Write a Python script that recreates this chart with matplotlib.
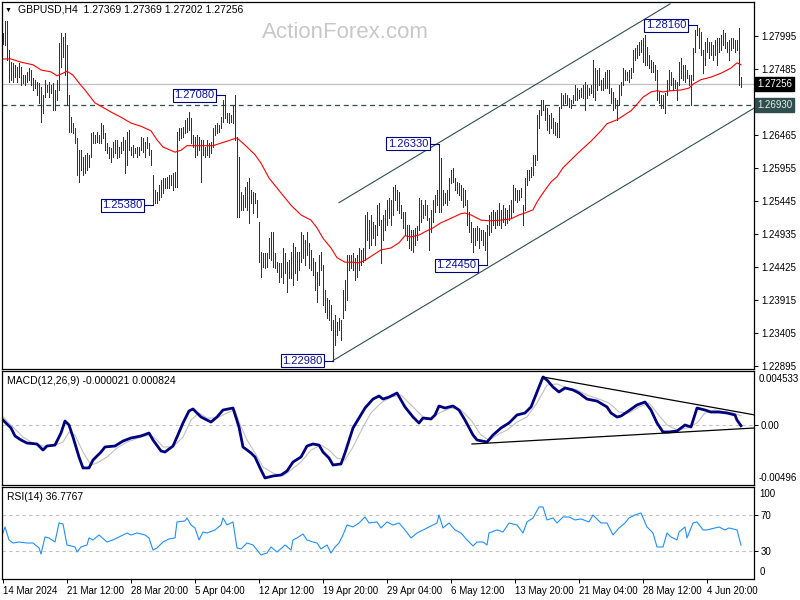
import matplotlib.pyplot as plt
import matplotlib.transforms as mtransforms

# ---- price bars (H4 GBPUSD), one value per bar ----
highs = [
    1.2804, 1.2823, 1.2823, 1.2778, 1.2759, 1.2758, 1.2755, 1.2752, 1.2758, 1.2752,
    1.2739, 1.2739, 1.2744, 1.2750, 1.2747, 1.2735, 1.2732, 1.2728, 1.2727, 1.2721,
    1.2708, 1.2732, 1.2724, 1.2728, 1.2724, 1.2727, 1.2716, 1.2732, 1.2789, 1.2804,
    1.2798, 1.2804, 1.2786, 1.2708, 1.2674, 1.2665, 1.2657, 1.2642, 1.2623, 1.2623,
    1.2613, 1.2616, 1.2619, 1.2616, 1.2650, 1.2651, 1.2647, 1.2651, 1.2647, 1.2665,
    1.2662, 1.2650, 1.2634, 1.2628, 1.2626, 1.2636, 1.2639, 1.2639, 1.2628, 1.2636,
    1.2643, 1.2639, 1.2651, 1.2654, 1.2628, 1.2631, 1.2626, 1.2628, 1.2628, 1.2643,
    1.2642, 1.2636, 1.2643, 1.2634, 1.2623, 1.2585, 1.2562, 1.2559, 1.2569, 1.2577,
    1.2580, 1.2580, 1.2582, 1.2585, 1.2585, 1.2588, 1.2589, 1.2651, 1.2657, 1.2657,
    1.2659, 1.2670, 1.2673, 1.2682, 1.2673, 1.2647, 1.2643, 1.2647, 1.2643, 1.2639,
    1.2639, 1.2628, 1.2639, 1.2634, 1.2636, 1.2657, 1.2662, 1.2665, 1.2662, 1.2674,
    1.2701, 1.2708, 1.2680, 1.2680, 1.2677, 1.2693, 1.2708, 1.2643, 1.2613, 1.2559,
    1.2554, 1.2566, 1.2574, 1.2580, 1.2562, 1.2559, 1.2557, 1.2546, 1.2512, 1.2466,
    1.2464, 1.2464, 1.2464, 1.2487, 1.2497, 1.2497, 1.2464, 1.2450, 1.2449, 1.2449,
    1.2472, 1.2464, 1.2450, 1.2453, 1.2466, 1.2480, 1.2474, 1.2466, 1.2466, 1.2497,
    1.2492, 1.2484, 1.2497, 1.2480, 1.2469, 1.2457, 1.2450, 1.2435, 1.2461, 1.2466,
    1.2446, 1.2407, 1.2395, 1.2392, 1.2384, 1.2361, 1.2368, 1.2358, 1.2364, 1.2361,
    1.2407, 1.2422, 1.2461, 1.2461, 1.2461, 1.2464, 1.2457, 1.2461, 1.2472, 1.2469,
    1.2472, 1.2523, 1.2528, 1.2515, 1.2523, 1.2512, 1.2508, 1.2538, 1.2542, 1.2515,
    1.2523, 1.2531, 1.2546, 1.2549, 1.2546, 1.2566, 1.2569, 1.2562, 1.2559, 1.2538,
    1.2528, 1.2528, 1.2508, 1.2508, 1.2500, 1.2500, 1.2503, 1.2506, 1.2549, 1.2546,
    1.2538, 1.2546, 1.2538, 1.2518, 1.2531, 1.2546, 1.2554, 1.2562, 1.2633, 1.2611,
    1.2562, 1.2557, 1.2562, 1.2580, 1.2593, 1.2596, 1.2580, 1.2574, 1.2572, 1.2569,
    1.2565, 1.2562, 1.2546, 1.2528, 1.2512, 1.2503, 1.2503, 1.2506, 1.2503, 1.2500,
    1.2500, 1.2497, 1.2508, 1.2523, 1.2528, 1.2531, 1.2528, 1.2531, 1.2542, 1.2531,
    1.2538, 1.2534, 1.2531, 1.2538, 1.2546, 1.2569, 1.2565, 1.2562, 1.2562, 1.2565,
    1.2538, 1.2580, 1.2593, 1.2593, 1.2597, 1.2616, 1.2616, 1.2677, 1.2685, 1.2701,
    1.2701, 1.2693, 1.2688, 1.2677, 1.2680, 1.2673, 1.2667, 1.2665, 1.2690, 1.2711,
    1.2708, 1.2711, 1.2708, 1.2704, 1.2701, 1.2708, 1.2724, 1.2719, 1.2716, 1.2719,
    1.2724, 1.2728, 1.2724, 1.2719, 1.2724, 1.2762, 1.2750, 1.2747, 1.2750, 1.2732,
    1.2735, 1.2744, 1.2747, 1.2747, 1.2719, 1.2713, 1.2704, 1.2701, 1.2724, 1.2728,
    1.2750, 1.2747, 1.2744, 1.2747, 1.2750, 1.2778, 1.2781, 1.2786, 1.2790, 1.2793,
    1.2796, 1.2801, 1.2783, 1.2770, 1.2762, 1.2759, 1.2755, 1.2747, 1.2713, 1.2708,
    1.2708, 1.2711, 1.2732, 1.2747, 1.2744, 1.2735, 1.2732, 1.2728, 1.2759, 1.2766,
    1.2755, 1.2755, 1.2747, 1.2739, 1.2739, 1.2781, 1.2809, 1.2816, 1.2812, 1.2806,
    1.2778, 1.2790, 1.2796, 1.2790, 1.2790, 1.2786, 1.2793, 1.2796, 1.2796, 1.2801,
    1.2809, 1.2804, 1.2790, 1.2793, 1.2796, 1.2796, 1.2793, 1.2793, 1.2812, 1.27369,
]
lows = [
    1.2787, 1.2786, 1.2762, 1.2728, 1.2732, 1.2728, 1.2736, 1.2728, 1.2736, 1.2724,
    1.2727, 1.2724, 1.2728, 1.2732, 1.2724, 1.2716, 1.2719, 1.2708, 1.2696, 1.2667,
    1.2680, 1.2705, 1.2713, 1.2705, 1.2711, 1.2685, 1.2685, 1.2701, 1.2716, 1.2752,
    1.2767, 1.2739, 1.2693, 1.2651, 1.2651, 1.2650, 1.2634, 1.2585, 1.2574, 1.2593,
    1.2585, 1.2588, 1.2593, 1.2597, 1.2613, 1.2634, 1.2634, 1.2636, 1.2634, 1.2634,
    1.2642, 1.2623, 1.2619, 1.2611, 1.2605, 1.2613, 1.2619, 1.2611, 1.2613, 1.2619,
    1.2623, 1.2588, 1.2600, 1.2623, 1.2616, 1.2613, 1.2619, 1.2613, 1.2616, 1.2623,
    1.2620, 1.2613, 1.2626, 1.2616, 1.2600, 1.2538, 1.2542, 1.2542, 1.2546, 1.2551,
    1.2557, 1.2565, 1.2565, 1.2565, 1.2569, 1.2562, 1.2566, 1.2566, 1.2639, 1.2642,
    1.2643, 1.2650, 1.2651, 1.2654, 1.2634, 1.2628, 1.2613, 1.2616, 1.2623, 1.2574,
    1.2616, 1.2613, 1.2616, 1.2613, 1.2619, 1.2628, 1.2647, 1.2650, 1.2651, 1.2657,
    1.2667, 1.2673, 1.2667, 1.2665, 1.2667, 1.2665, 1.2639, 1.2520, 1.2520, 1.2531,
    1.2531, 1.2535, 1.2531, 1.2511, 1.2542, 1.2526, 1.2542, 1.2520, 1.2450, 1.2427,
    1.2443, 1.2441, 1.2443, 1.2457, 1.2453, 1.2443, 1.2441, 1.2435, 1.2419, 1.2427,
    1.2418, 1.2433, 1.2404, 1.2426, 1.2426, 1.2415, 1.2433, 1.2422, 1.2438, 1.2450,
    1.2457, 1.2446, 1.2461, 1.2441, 1.2438, 1.2430, 1.2407, 1.2389, 1.2415, 1.2438,
    1.2384, 1.2373, 1.2364, 1.2361, 1.2345, 1.2298, 1.2322, 1.2337, 1.2345, 1.2330,
    1.2364, 1.2376, 1.2392, 1.2438, 1.2441, 1.2438, 1.2422, 1.2427, 1.2438, 1.2446,
    1.2450, 1.2453, 1.2484, 1.2472, 1.2477, 1.2487, 1.2477, 1.2492, 1.2508, 1.2449,
    1.2484, 1.2500, 1.2508, 1.2518, 1.2508, 1.2523, 1.2546, 1.2531, 1.2526, 1.2518,
    1.2503, 1.2492, 1.2484, 1.2472, 1.2469, 1.2466, 1.2477, 1.2484, 1.2500, 1.2512,
    1.2518, 1.2523, 1.2515, 1.2469, 1.2497, 1.2512, 1.2528, 1.2538, 1.2528, 1.2528,
    1.2538, 1.2542, 1.2538, 1.2546, 1.2572, 1.2574, 1.2562, 1.2557, 1.2554, 1.2546,
    1.2535, 1.2538, 1.2508, 1.2497, 1.2481, 1.2466, 1.2477, 1.2484, 1.2472, 1.2484,
    1.2477, 1.2469, 1.2445, 1.2492, 1.2497, 1.2508, 1.2503, 1.2508, 1.2508, 1.2503,
    1.2512, 1.2508, 1.2511, 1.2515, 1.2518, 1.2528, 1.2546, 1.2543, 1.2546, 1.2551,
    1.2508, 1.2531, 1.2569, 1.2577, 1.2582, 1.2585, 1.2600, 1.2608, 1.2657, 1.2677,
    1.2685, 1.2670, 1.2654, 1.2650, 1.2657, 1.2650, 1.2647, 1.2643, 1.2643, 1.2688,
    1.2693, 1.2696, 1.2693, 1.2690, 1.2688, 1.2696, 1.2701, 1.2701, 1.2704, 1.2705,
    1.2704, 1.2685, 1.2704, 1.2708, 1.2711, 1.2705, 1.2701, 1.2716, 1.2724, 1.2716,
    1.2716, 1.2719, 1.2719, 1.2711, 1.2696, 1.2685, 1.2688, 1.2670, 1.2693, 1.2708,
    1.2724, 1.2732, 1.2732, 1.2728, 1.2735, 1.2744, 1.2762, 1.2766, 1.2770, 1.2775,
    1.2759, 1.2755, 1.2755, 1.2750, 1.2744, 1.2744, 1.2732, 1.2701, 1.2696, 1.2688,
    1.2688, 1.2680, 1.2708, 1.2716, 1.2724, 1.2716, 1.2719, 1.2701, 1.2724, 1.2735,
    1.2732, 1.2728, 1.2735, 1.2724, 1.2693, 1.2732, 1.2775, 1.2801, 1.2781, 1.2770,
    1.2742, 1.2755, 1.2775, 1.2766, 1.2770, 1.2762, 1.2770, 1.2755, 1.2775, 1.2778,
    1.2786, 1.2781, 1.2775, 1.2762, 1.2778, 1.2781, 1.2775, 1.2778, 1.2724, 1.27202,
]
last_open, last_close = 1.27369, 1.27256

# moving average (red)
ma_idx = [0, 4, 9, 15, 19, 24, 27, 30, 32, 35, 38, 41, 46, 49, 54, 59, 64, 69, 74, 77,
          80, 86, 89, 92, 99, 105, 109, 114, 117, 121, 126, 129, 133, 139, 144, 149, 154, 157, 160, 164,
          167, 171, 175, 178, 181, 185, 189, 194, 198, 201, 204, 208, 211, 215, 219, 222, 229, 231, 234, 239,
          243, 249, 254, 258, 261, 265, 267, 270, 274, 277, 280, 284, 289, 294, 299, 302, 307, 310, 314, 317,
          320, 324, 327, 330, 334, 339, 343, 345, 349, 354, 359, 364, 367, 369]
ma_val = [1.2764, 1.2764, 1.2759, 1.2755, 1.2747, 1.2744, 1.2738, 1.2742, 1.2745, 1.2739,
          1.2727, 1.2716, 1.2696, 1.2691, 1.2682, 1.2674, 1.2665, 1.2660, 1.2653, 1.2639,
          1.2628, 1.2620, 1.2623, 1.2630, 1.2630, 1.2630, 1.2634, 1.2639, 1.2642, 1.2631,
          1.2616, 1.2603, 1.2580, 1.2557, 1.2538, 1.2523, 1.2515, 1.2503, 1.2487, 1.2472,
          1.2457, 1.2450, 1.2450, 1.2449, 1.2453, 1.2461, 1.2469, 1.2472, 1.2480, 1.2491,
          1.2489, 1.2492, 1.2497, 1.2503, 1.2511, 1.2515, 1.2525, 1.2526, 1.2523, 1.2515,
          1.2514, 1.2515, 1.2517, 1.2523, 1.2526, 1.2531, 1.2543, 1.2557, 1.2574, 1.2582,
          1.2596, 1.2608, 1.2623, 1.2637, 1.2653, 1.2664, 1.2670, 1.2676, 1.2684, 1.2694,
          1.2705, 1.2713, 1.2715, 1.2713, 1.2715, 1.2716, 1.2719, 1.2725, 1.2732, 1.2736,
          1.2742, 1.2750, 1.2758, 1.2755]

# MACD(12,26,9): main and signal, in units of 0.001
macd_idx = [0, 4, 6, 9, 12, 17, 20, 22, 26, 29, 31, 33, 35, 38, 40, 43, 45, 49, 51, 56,
            60, 64, 69, 73, 75, 79, 81, 85, 87, 90, 93, 95, 99, 104, 107, 110, 115, 118, 120, 124,
            126, 129, 131, 135, 139, 142, 145, 149, 152, 155, 158, 160, 163, 165, 169, 171, 175, 178, 181, 185,
            188, 190, 193, 197, 201, 205, 208, 210, 214, 216, 218, 221, 225, 228, 231, 235, 237, 242, 245, 249,
            253, 257, 261, 264, 266, 269, 270, 272, 275, 278, 281, 285, 288, 292, 297, 302, 304, 307, 309, 312,
            317, 321, 324, 327, 330, 333, 337, 341, 344, 347, 351, 354, 358, 362, 366, 367, 369]
macd_val = [0.46, -0.21, -0.89, -1.23, -1.49, -1.57, -2.08, -1.74, -1.66, -0.64,
            0.38, 0.04, -0.98, -2.67, -3.60, -3.60, -2.93, -2.25, -1.82, -1.74,
            -1.32, -1.06, -0.89, -0.64, -1.23, -2.16, -2.25, -1.74, -0.98, 0.21,
            1.23, 1.40, 0.72, 0.29, 0.72, 1.31, 1.48, -0.13, -1.82, -2.33,
            -2.67, -3.77, -4.45, -4.28, -4.20, -3.86, -3.10, -2.67, -1.74, -1.57,
            -1.66, -2.25, -2.76, -3.35, -3.26, -2.33, -0.21, 0.63, 1.48, 2.24,
            2.50, 2.24, 2.41, 2.75, 1.57, 0.72, 0.21, 0.63, 0.55, 0.89,
            1.65, 1.48, 1.65, 1.31, 0.46, -0.81, -1.23, -1.40, -0.81, -0.21,
            0.21, 0.89, 1.06, 1.57, 2.41, 3.69, 4.11, 3.85, 3.26, 2.84,
            3.18, 3.01, 2.75, 2.24, 2.07, 1.57, 1.06, 0.72, 0.80, 1.14,
            1.74, 1.99, 1.31, 0.21, -0.55, -0.55, -0.47, 0.04, -0.13, 1.48,
            1.31, 1.14, 1.14, 1.06, 0.89, 0.46, -0.02]
sig_idx = [0, 5, 10, 15, 20, 25, 30, 33, 36, 40, 44, 47, 52, 57, 62, 69, 74, 77, 80, 85,
           90, 94, 98, 102, 107, 112, 116, 118, 122, 126, 130, 135, 140, 144, 149, 154, 159, 163, 167, 171,
           175, 180, 184, 189, 194, 199, 205, 210, 214, 219, 224, 229, 234, 239, 243, 247, 252, 257, 262, 267,
           272, 277, 282, 287, 292, 298, 303, 308, 313, 318, 323, 327, 332, 337, 342, 347, 351, 356, 361, 365,
           369]
sig_val = [0.72, -0.13, -0.98, -1.49, -1.74, -1.74, -1.40, -0.55, -0.81, -2.25,
           -3.35, -3.18, -2.67, -1.91, -1.40, -0.98, -0.81, -1.23, -1.82, -1.82,
           -0.98, 0.46, 1.06, 0.63, 0.63, 1.06, 1.31, 0.29, -1.23, -2.33,
           -3.52, -4.03, -4.28, -3.77, -3.10, -2.08, -1.66, -2.08, -2.76, -2.93,
           -1.82, -0.13, 1.06, 1.91, 2.41, 2.58, 1.57, 0.72, 0.63, 1.14,
           1.48, 1.31, 0.46, -0.81, -1.23, -0.81, -0.38, 0.29, 0.72, 1.91,
           3.43, 3.52, 3.18, 3.01, 2.58, 2.24, 1.91, 1.14, 1.06, 1.57,
           1.91, 1.06, 0.04, -0.38, -0.21, 0.21, 1.06, 1.31, 1.14, 1.06,
           0.82]
macd_last, signal_last = -0.000021, 0.000824
macd_top, macd_bottom = 0.004533, -0.00496

# RSI(14)
rsi_idx = [0, 1, 3, 5, 8, 12, 15, 18, 19, 21, 23, 26, 28, 30, 32, 36, 37, 39, 42, 43,
           45, 48, 52, 55, 58, 62, 64, 67, 71, 73, 75, 77, 80, 83, 86, 87, 91, 92, 94, 96,
           98, 100, 102, 106, 109, 110, 112, 115, 117, 119, 122, 125, 127, 129, 132, 134, 137, 140, 141, 144,
           145, 147, 150, 152, 155, 157, 159, 162, 164, 166, 168, 170, 172, 175, 178, 181, 183, 187, 189, 192,
           195, 198, 201, 204, 207, 210, 213, 217, 218, 220, 223, 226, 229, 232, 235, 237, 240, 242, 243, 247,
           250, 253, 257, 260, 262, 265, 268, 270, 272, 275, 277, 280, 283, 286, 289, 293, 295, 299, 302, 305,
           308, 311, 313, 316, 319, 322, 325, 327, 330, 332, 334, 337, 338, 341, 342, 345, 347, 350, 352, 356,
           358, 361, 363, 367, 369]
rsi_val = [50.3, 57.0, 42.6, 39.2, 40.3, 39.2, 39.2, 33.7, 27.0, 45.9,
           44.8, 40.3, 61.4, 60.3, 37.0, 34.8, 29.2, 34.8, 37.0, 44.8,
           42.6, 48.1, 40.3, 42.6, 45.9, 50.3, 48.1, 50.3, 48.1, 44.8,
           31.4, 33.7, 40.3, 43.7, 44.8, 62.6, 63.7, 67.0, 59.2, 55.9,
           42.6, 51.4, 50.3, 53.7, 59.2, 67.0, 59.2, 62.6, 33.7, 32.6,
           39.2, 37.0, 31.4, 25.9, 28.1, 34.8, 29.2, 34.8, 37.0, 31.4,
           42.6, 44.8, 49.2, 42.6, 40.3, 39.2, 32.6, 37.0, 28.1, 34.8,
           39.2, 48.1, 59.2, 57.0, 61.4, 68.1, 61.4, 62.6, 55.9, 62.6,
           59.2, 61.4, 53.7, 44.8, 50.3, 53.7, 57.0, 61.4, 70.3, 55.9,
           61.4, 53.7, 50.3, 42.6, 35.9, 40.3, 40.3, 37.0, 50.3, 53.7,
           51.4, 61.4, 59.2, 50.3, 62.6, 67.0, 79.2, 79.2, 64.8, 67.0,
           61.4, 68.1, 68.1, 64.8, 65.9, 62.6, 70.3, 61.4, 61.4, 48.1,
           55.9, 61.4, 67.0, 70.3, 72.6, 57.0, 50.3, 34.8, 34.8, 50.3,
           45.9, 42.6, 51.4, 57.0, 44.8, 61.4, 62.6, 53.7, 53.7, 55.9,
           57.0, 53.7, 55.9, 53.7, 36.8]
rsi_last = 36.7767

# labelled swing highs / lows
swing_idx = [111, 75, 218, 242, 165, 347]
swing_val = [1.2708, 1.2538, 1.2633, 1.2445, 1.2298, 1.2816]

# drawn trend lines (bar index, value)
chan_up = ([168, 333.5], [1.2542, 1.2849])
chan_lo = ([165, 375.5], [1.2298, 1.2688])
macd_up = ([270, 376], [4.11, 0.89])
macd_lo = ([234.5, 376], [-1.57, -0.21])
level_line = 1.2693

price_ticks = [1.27995, 1.27485, 1.26975, 1.26465, 1.25955, 1.25445,
               1.24935, 1.24425, 1.23915, 1.23405, 1.22895]
price_labels = ['1.27995', '1.27485', '', '1.26465', '1.25955', '1.25445',
                '1.24935', '1.24425', '1.23915', '1.23405', '1.22895']
date_idx = [0, 32, 64, 96, 128, 160, 192, 224, 256, 288, 320, 352]
date_labels = ['14 Mar 2024', '21 Mar 12:00', '28 Mar 20:00', '5 Apr 04:00',
               '12 Apr 12:00', '19 Apr 20:00', '29 Apr 04:00', '6 May 12:00',
               '13 May 20:00', '21 May 04:00', '28 May 12:00', '4 Jun 20:00']

plt.rcParams['font.family'] = ['Liberation Sans', 'DejaVu Sans']
W, H = 800, 600
FS = 7
fig = plt.figure(figsize=(8, 6), dpi=100)


def panel(top, bottom, left=2, right=754):
    a = fig.add_axes([left / W, 1 - bottom / H, (right - left) / W, (bottom - top) / H])
    a.set_xlim(-0.5, 375.5)
    for s in a.spines.values():
        s.set_linewidth(0.9)
    a.yaxis.tick_right()
    a.tick_params(axis='y', length=3, width=0.7, pad=2, labelsize=FS)
    return a


ax = panel(2, 369)
ax_macd = panel(371, 485)
ax_rsi = panel(487, 579)

# ---- main price panel ----
bars = list(range(len(highs)))
ax.axhline(last_close, color='#c0c0c0', lw=0.9)
ax.axhline(level_line, color='#2f4f4f', lw=0.9, ls=(0, (4, 3)))
ax.vlines(bars, lows, highs, color='#173a52', lw=0.72, antialiased=False)
ax.plot(ma_idx, ma_val, color='red', lw=0.8)
ax.plot(*chan_up, color='#2f4f4f', lw=0.8)
ax.plot(*chan_lo, color='#2f4f4f', lw=0.8)
ax.set_ylim(1.2285, 1.2852)
ax.set_xticks([])
ax.set_yticks(price_ticks)
ax.set_yticklabels(price_labels)

for i, v in zip(swing_idx, swing_val):
    ax.plot([i - 5, i], [v, v], color='#000080', lw=0.8)
    ax.text(i - 5.4, v, f'{v:.5f}', ha='right', va='center', fontsize=8, color='#1010a0',
            bbox=dict(boxstyle='square,pad=0.12', fc='white', ec='#000080', lw=0.8))

tr = mtransforms.blended_transform_factory(ax.transAxes, ax.transData)
ax.text(1.004, last_close, f'{last_close:.5f}', transform=tr, ha='left', va='center',
        fontsize=FS, color='white', bbox=dict(boxstyle='square,pad=0.2', fc='black', ec='black'))
ax.text(1.004, level_line, f'{level_line:.5f}', transform=tr, ha='left', va='center',
        fontsize=FS, color='#e8eeee', bbox=dict(boxstyle='square,pad=0.2', fc='#2f4f4f', ec='#2f4f4f'))

fig.text(345 / W, 1 - 32 / H, 'ActionForex.com', fontsize=16, color='#c8c8c8',
         ha='center', va='center')
fig.text(5 / W, 1 - 10 / H, '\u25bc', fontsize=5, va='center')
fig.text(18 / W, 1 - 10 / H, f'GBPUSD,H4  {last_open:.5f} {highs[-1]:.5f} '
         f'{lows[-1]:.5f} {last_close:.5f}', fontsize=7.5, va='center')

# ---- MACD panel ----
ax_macd.axhline(0, color='#c0c0c0', lw=0.8, ls=(0, (3, 3)))
ax_macd.plot(sig_idx, [v / 1000 for v in sig_val], color='#c0c0c0', lw=0.8)
ax_macd.plot(macd_idx, [v / 1000 for v in macd_val], color='#000080', lw=2.0)
ax_macd.plot(macd_up[0], [v / 1000 for v in macd_up[1]], color='black', lw=0.9)
ax_macd.plot(macd_lo[0], [v / 1000 for v in macd_lo[1]], color='black', lw=0.9)
ax_macd.set_ylim(-0.005045, 0.004618)
ax_macd.set_xticks([])
ax_macd.set_yticks([0])
ax_macd.set_yticklabels(['0.00'])
ax_macd.text(1.006, 0.93, f'{macd_top:.6f}', transform=ax_macd.transAxes, fontsize=FS, va='center')
ax_macd.text(1.006, 0.06, f'{macd_bottom:.5f}', transform=ax_macd.transAxes, fontsize=FS, va='center')
ax_macd.text(0.007, 0.91, f'MACD(12,26,9) {macd_last:.6f} {signal_last:.6f}',
             transform=ax_macd.transAxes, fontsize=7.5, va='center')

# ---- RSI panel ----
ax_rsi.axhline(70, color='#c0c0c0', lw=0.8, ls=(0, (3, 3)))
ax_rsi.axhline(30, color='#c0c0c0', lw=0.8, ls=(0, (3, 3)))
ax_rsi.plot(rsi_idx, rsi_val, color='#1e90ff', lw=0.8)
ax_rsi.set_ylim(-0.8, 101.4)
ax_rsi.set_yticks([70, 30])
ax_rsi.set_yticklabels(['70', '30'])
ax_rsi.text(1.007, 0.924, '100', transform=ax_rsi.transAxes, fontsize=FS, va='center')
ax_rsi.text(1.007, 0.076, '0', transform=ax_rsi.transAxes, fontsize=FS, va='center')
ax_rsi.text(0.007, 0.89, f'RSI(14) {rsi_last:.4f}', transform=ax_rsi.transAxes, fontsize=7.5, va='center')
ax_rsi.set_xticks(date_idx)
ax_rsi.set_xticklabels(date_labels)
ax_rsi.tick_params(axis='x', length=3, width=0.7, pad=2, labelsize=FS)
plt.setp(ax_rsi.get_xticklabels(), ha='left')

fig.savefig('out.png', dpi=100)
